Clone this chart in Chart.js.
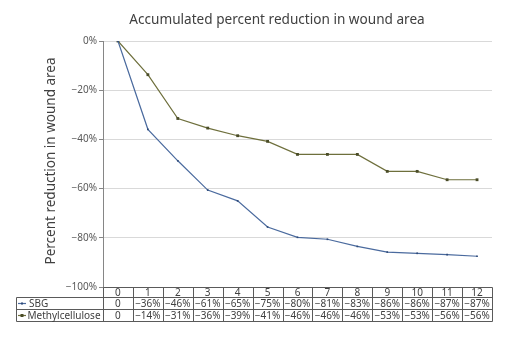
<!DOCTYPE html>
<html>
<head>
<meta charset="utf-8">
<script src="https://cdn.jsdelivr.net/npm/chart.js@4/dist/chart.umd.min.js"></script>
<style>
  body { margin: 0; background: #fff; }
  #wrap { width: 520px; height: 343px; }
</style>
</head>
<body>
<div id="wrap"><canvas id="woundChart"></canvas></div>
<script>
// time points on the x axis
const categories = ['0', '1', '2', '3', '4', '5', '6', '7', '8', '9', '10', '11', '12'];
// plotted values (%)
const sbgValues = [0, -35.9, -48.7, -60.6, -65, -75.6, -79.8, -80.6, -83.5, -85.8, -86.3, -86.8, -87.5];
const methylValues = [0, -13.7, -31.5, -35.4, -38.5, -40.8, -46.1, -46.1, -46.1, -53, -53, -56.4, -56.4];
// text printed in the data table under the plot
const sbgTableLabels = ['0', '−36%', '−46%', '−61%', '−65%', '−75%', '−80%', '−81%', '−83%', '−86%', '−86%', '−87%', '−87%'];
const methylTableLabels = ['0', '−14%', '−31%', '−36%', '−39%', '−41%', '−46%', '−46%', '−46%', '−53%', '−53%', '−56%', '−56%'];
const seriesNames = ['SBG', 'Methylcellulose'];

const FONT = '"Noto Sans", "Open Sans", sans-serif';
const TEXT = '#404040';
const SBG_COLOR = '#4a6a9e';
const METHYL_COLOR = '#6e6f3c';

// draws title, y-axis title and the data table
const extrasPlugin = {
    id: 'extras',
    afterDraw(chart) {
        const ctx = chart.ctx;
        const area = chart.chartArea;
        const x = chart.scales.x;
        ctx.save();

        // title
        ctx.fillStyle = TEXT;
        ctx.font = '13.6px ' + FONT;
        ctx.textAlign = 'center';
        ctx.textBaseline = 'middle';
        ctx.fillText('Accumulated percent reduction in wound area', 277, 20);

        // y-axis title
        ctx.save();
        ctx.translate(51, 161);
        ctx.rotate(-Math.PI / 2);
        ctx.font = '13.5px ' + FONT;
        ctx.fillText('Percent reduction in wound area', 0, 0);
        ctx.restore();

        // data table
        const colW = x.getPixelForValue(1) - x.getPixelForValue(0);
        const left = Math.round(area.left) + 0.5;
        const right = Math.round(area.right) + 0.5;
        const rows = [Math.round(area.bottom) + 0.5, 297.5, 309.5, 321.5];
        const legendLeft = 16.5;

        ctx.strokeStyle = '#5a5a5a';
        ctx.lineWidth = 1;
        ctx.beginPath();
        // horizontal lines
        ctx.moveTo(left, rows[0]); ctx.lineTo(right, rows[0]);
        for (let r = 1; r < rows.length; r++) {
            ctx.moveTo(legendLeft, rows[r]); ctx.lineTo(right, rows[r]);
        }
        // vertical lines
        ctx.moveTo(legendLeft, rows[1]); ctx.lineTo(legendLeft, rows[3]);
        for (let i = 0; i <= categories.length; i++) {
            const px = Math.round(x.getPixelForValue(0) - colW / 2 + i * colW) + 0.5;
            ctx.moveTo(px, rows[0]); ctx.lineTo(px, rows[3]);
        }
        ctx.stroke();

        ctx.font = '10px ' + FONT;
        ctx.fillStyle = TEXT;
        ctx.textAlign = 'center';
        const rowTexts = [categories, sbgTableLabels, methylTableLabels];
        for (let r = 0; r < 3; r++) {
            const cy = (rows[r] + rows[r + 1]) / 2 + 0.5;
            rowTexts[r].forEach(function (t, i) {
                ctx.fillText(t, x.getPixelForValue(i), cy);
            });
        }

        // legend keys + names
        const keyColors = [SBG_COLOR, METHYL_COLOR];
        const markColors = ['#2e4a78', '#4a4c28'];
        ctx.textAlign = 'left';
        for (let s = 0; s < 2; s++) {
            const cy = (rows[s + 1] + rows[s + 2]) / 2;
            ctx.strokeStyle = keyColors[s];
            ctx.lineWidth = 1.2;
            ctx.beginPath();
            ctx.moveTo(18, cy); ctx.lineTo(26, cy);
            ctx.stroke();
            ctx.fillStyle = markColors[s];
            const sz = s === 0 ? 2 : 3;
            ctx.fillRect(22 - sz / 2, cy - sz / 2, sz, sz);
            ctx.fillStyle = TEXT;
            ctx.fillText(seriesNames[s], s === 0 ? 29 : 27.5, cy + 0.5);
        }
        ctx.restore();
    }
};

const ctx = document.getElementById('woundChart').getContext('2d');
new Chart(ctx, {
    type: 'line',
    data: {
        labels: categories,
        datasets: [{
            label: seriesNames[0],
            data: sbgValues,
            borderColor: SBG_COLOR,
            borderWidth: 1.2,
            backgroundColor: '#2e4a78',
            pointStyle: 'rect',
            pointRadius: 1.2,
            pointBorderWidth: 0,
            tension: 0
        }, {
            label: seriesNames[1],
            data: methylValues,
            borderColor: METHYL_COLOR,
            borderWidth: 1.2,
            backgroundColor: '#4a4c28',
            pointStyle: 'rect',
            pointRadius: 2,
            pointBorderWidth: 0,
            tension: 0
        }]
    },
    options: {
        responsive: true,
        maintainAspectRatio: false,
        animation: false,
        layout: { padding: { left: 0, top: 41, right: 28, bottom: 56 } },
        plugins: {
            legend: { display: false },
            title: { display: false },
            tooltip: { enabled: false }
        },
        scales: {
            x: {
                type: 'category',
                offset: true,
                display: false
            },
            y: {
                min: -100,
                max: 0,
                afterFit: function (scale) { scale.width = 103; },
                ticks: {
                    stepSize: 20,
                    padding: 2,
                    color: '#595959',
                    font: { family: FONT, size: 10 },
                    callback: function (v) { return (v < 0 ? '−' : '') + Math.abs(v) + '%'; }
                },
                grid: {
                    color: '#d9d9d9',
                    tickColor: '#868686',
                    tickLength: 4
                },
                border: { color: '#868686' }
            }
        }
    },
    plugins: [extrasPlugin]
});
</script>
</body>
</html>
